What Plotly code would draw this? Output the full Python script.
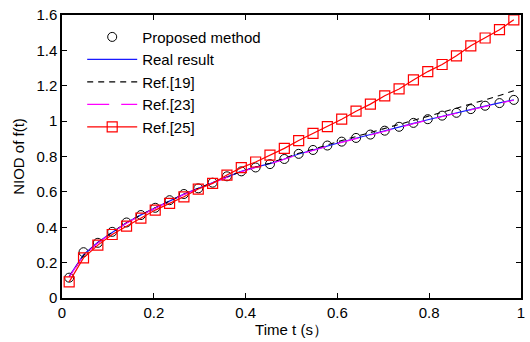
import plotly.graph_objects as go

t = [(k + 0.5) / 32 for k in range(32)]

proposed = [0.115, 0.259, 0.312, 0.374, 0.427, 0.469, 0.510, 0.553, 0.588, 0.620,
            0.652, 0.688, 0.716, 0.738, 0.757, 0.786, 0.815, 0.837, 0.862, 0.884,
            0.905, 0.924, 0.946, 0.968, 0.990, 1.011, 1.031, 1.047, 1.068, 1.087,
            1.102, 1.120]
real = [0.122, 0.245, 0.315, 0.372, 0.425, 0.470, 0.510, 0.550, 0.587, 0.620,
        0.653, 0.686, 0.716, 0.740, 0.760, 0.786, 0.814, 0.836, 0.860, 0.882,
        0.903, 0.923, 0.944, 0.966, 0.987, 1.008, 1.028, 1.047, 1.066, 1.085,
        1.103, 1.120]
ref19 = [0.120, 0.240, 0.312, 0.372, 0.425, 0.470, 0.510, 0.550, 0.587, 0.620,
         0.653, 0.686, 0.716, 0.740, 0.762, 0.790, 0.818, 0.841, 0.867, 0.890,
         0.913, 0.935, 0.958, 0.981, 1.004, 1.027, 1.050, 1.072, 1.096, 1.120,
         1.145, 1.172]
ref23 = [0.118, 0.240, 0.310, 0.370, 0.423, 0.468, 0.508, 0.548, 0.585, 0.618,
         0.651, 0.684, 0.714, 0.738, 0.758, 0.784, 0.812, 0.834, 0.858, 0.880,
         0.901, 0.921, 0.942, 0.964, 0.985, 1.006, 1.026, 1.045, 1.064, 1.083,
         1.101, 1.118]
ref25 = [0.091, 0.227, 0.299, 0.359, 0.406, 0.452, 0.497, 0.535, 0.572, 0.616,
         0.648, 0.695, 0.737, 0.769, 0.808, 0.846, 0.890, 0.931, 0.969, 1.011,
         1.056, 1.096, 1.143, 1.182, 1.233, 1.280, 1.320, 1.369, 1.426, 1.470,
         1.517, 1.573]

xticks = [0, 0.2, 0.4, 0.6, 0.8, 1]
xtick_labels = ["0", "0.2", "0.4", "0.6", "0.8", "1"]
yticks = [0, 0.2, 0.4, 0.6, 0.8, 1, 1.2, 1.4, 1.6]
ytick_labels = ["0", "0.2", "0.4", "0.6", "0.8", "1", "1.2", "1.4", "1.6"]

FONT = "Liberation Sans, Arial, sans-serif"

fig = go.Figure()
fig.add_trace(go.Scatter(x=t, y=proposed, mode="markers", name="Proposed method",
                         marker=dict(symbol="circle-open", size=9, color="black",
                                     line=dict(width=1, color="black"))))
fig.add_trace(go.Scatter(x=t, y=real, mode="lines", name="Real result",
                         line=dict(color="#1a1aff", width=1.2)))
fig.add_trace(go.Scatter(x=t, y=ref19, mode="lines", name="Ref.[19]",
                         line=dict(color="black", width=1.1, dash="6px,5px")))
fig.add_trace(go.Scatter(x=t, y=ref23, mode="lines", name="Ref.[23]",
                         line=dict(color="#ff00ff", width=1.1, dash="22px,12px")))
fig.add_trace(go.Scatter(x=t, y=ref25, mode="lines+markers", name="Ref.[25]",
                         line=dict(color="#ff0000", width=1.2),
                         marker=dict(symbol="square-open", size=10, color="#ff0000",
                                     line=dict(width=1.2, color="#ff0000"))))

axis_common = dict(showline=True, linecolor="black", linewidth=1.5, mirror="allticks",
                   ticks="inside", ticklen=5, tickcolor="black", tickwidth=1,
                   showgrid=False, zeroline=False,
                   tickfont=dict(family=FONT, size=15, color="black"))

fig.update_xaxes(range=[0, 1], tickvals=xticks, ticktext=xtick_labels,
                 title=dict(text="Time t (s）", font=dict(family=FONT, size=15, color="black"),
                            standoff=4),
                 **axis_common)
fig.update_yaxes(range=[0, 1.6], tickvals=yticks, ticktext=ytick_labels,
                 title=dict(text="NIOD of f(t)", font=dict(family=FONT, size=15, color="black"),
                            standoff=8),
                 **axis_common)

fig.update_layout(
    width=530, height=342,
    margin=dict(l=62, r=5, t=15, b=44),
    plot_bgcolor="white", paper_bgcolor="white",
    font=dict(family=FONT, size=15, color="black"),
    showlegend=True,
    legend=dict(x=0.044, y=0.98, xanchor="left", yanchor="top",
                bgcolor="rgba(0,0,0,0)", borderwidth=0,
                font=dict(family=FONT, size=15, color="black"),
                itemwidth=50, tracegroupgap=0),
)

fig.write_html("out.html", config={"displayModeBar": False},
               post_script="document.body.style.margin='0';")
